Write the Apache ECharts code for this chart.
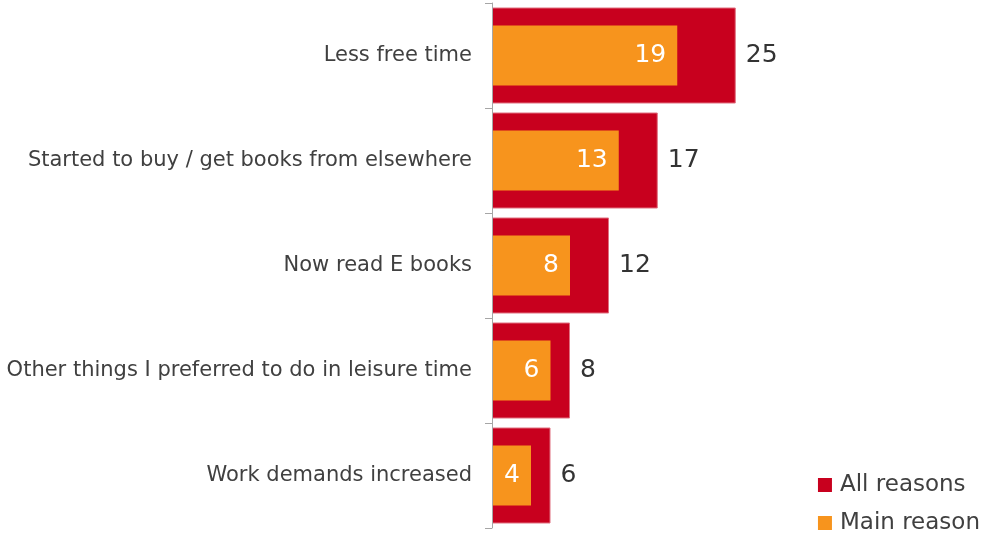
<!DOCTYPE html>
<html><head><meta charset="utf-8">
<script src="https://cdn.jsdelivr.net/npm/echarts@6/dist/echarts.min.js"></script>
<style>html,body{margin:0;padding:0;background:#fff}#c{width:985px;height:533px}</style>
</head><body><div id="c"></div>
<script>
var categories = ["Less free time", "Started to buy / get books from elsewhere", "Now read E books", "Other things I preferred to do in leisure time", "Work demands increased"];
var allReasons = [25, 17, 12, 8, 6];
var mainReason = [19, 13, 8, 6, 4];
var seriesNames = ["All reasons", "Main reason"];

var font = "DejaVu Sans";
var chart = echarts.init(document.getElementById('c'));
chart.setOption({
  animation: false,
  textStyle: {fontFamily: font},
  grid: {left: 492, top: 3, bottom: 5, right: 103, containLabel: false},
  xAxis: {type: 'value', min: 0, max: 40, show: false},
  yAxis: [
    {type: 'category', data: categories, inverse: true, z: 5,
     axisLine: {show: true, lineStyle: {color: '#a6a6a6', width: 1}},
     axisTick: {show: true, length: 7, lineStyle: {color: '#a6a6a6', width: 1}},
     axisLabel: {show: true, fontFamily: font, fontSize: 21, color: '#404040', margin: 20, padding: [3, 0, 0, 0]}},
    {type: 'category', data: categories, inverse: true, show: false}
  ],
  legend: {
    orient: 'vertical', right: 0, bottom: -7,
    itemWidth: 14, itemHeight: 14, itemGap: 14,
    icon: 'rect',
    itemStyle: {borderWidth: 0},
    textStyle: {fontFamily: font, fontSize: 23, color: '#404040', lineHeight: 24, padding: [0,0,0,3]},
    data: seriesNames
  },
  series: [
    {name: seriesNames[0], type: 'bar', yAxisIndex: 0, data: allReasons, barWidth: 96,
     itemStyle: {color: '#c8001e', borderColor: '#e07080', borderWidth: 1},
     label: {show: true, position: 'right', distance: 10, fontFamily: font, fontSize: 25, color: '#333333', padding: [3, 0, 0, 0]}},
    {name: seriesNames[1], type: 'bar', yAxisIndex: 1, data: mainReason, barWidth: 60,
     itemStyle: {color: '#f7941d'},
     label: {show: true, position: 'insideRight', distance: 11, fontFamily: font, fontSize: 25, color: '#ffffff', padding: [3, 0, 0, 0]}}
  ]
});
</script></body></html>
